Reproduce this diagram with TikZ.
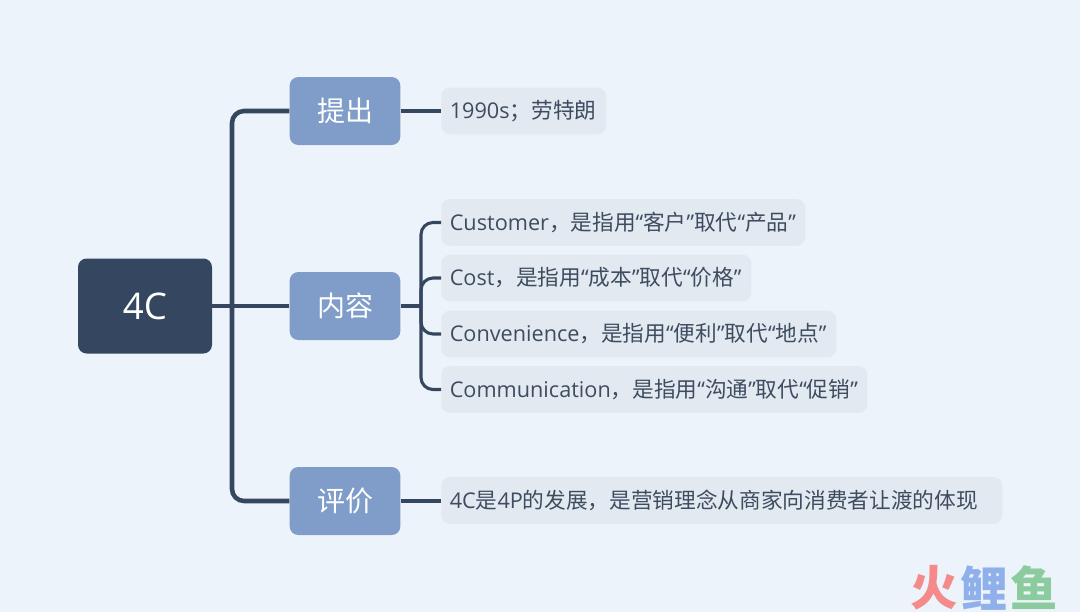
\documentclass[tikz,border=0pt]{standalone}
\usepackage{fontspec}
\setmainfont{Open Sans}
\newfontfamily\cjk{Noto Sans CJK SC}
\newfontfamily\cjkb{Noto Sans CJK SC Black}
\newcommand{\zh}[1]{{\cjk #1}}
\definecolor{bgc}{HTML}{EDF3FA}
\definecolor{rootc}{HTML}{344660}
\definecolor{midc}{HTML}{7F9DC8}
\definecolor{leafc}{HTML}{E3E9F1}
\definecolor{linec}{HTML}{35475F}
\definecolor{txtc}{HTML}{3E4C60}
\tikzset{
  x=0.75pt,y=-0.75pt,
  rootbox/.style={rectangle,rounded corners=6.5pt,fill=rootc,text=white,minimum width=100.5pt,minimum height=71.25pt,inner sep=0pt,font=\fontsize{27.5}{30}\selectfont},
  midbox/.style={rectangle,rounded corners=6.5pt,fill=midc,text=white,minimum width=83pt,minimum height=51pt,inner sep=0pt,font=\fontsize{21}{24}\selectfont},
  leafbox/.style={rectangle,rounded corners=6.5pt,fill=leafc,text=txtc,minimum height=35pt,inner xsep=6.4pt,inner ysep=0pt,anchor=west,align=left,text width=#1*0.75pt-12.8pt,font=\fontsize{16.25}{18}\selectfont},
  trunk/.style={draw=linec,line width=3.4pt,rounded corners=9pt},
  twig/.style={draw=linec,line width=2.3pt,rounded corners=9pt},
  logomark/.style={inner sep=0pt,font=\cjkb\fontsize{35.5}{37}\selectfont},
}
\begin{document}
\begin{tikzpicture}
\useasboundingbox[fill=bgc] (0,0) rectangle (1080,612);
\coordinate (tk) at (232,0);
\coordinate (tw) at (421,0);
\node[rootbox] (root) at (145,306) {4C};
\node[midbox] (a) at (345,111) {\zh{提出}};
\node[midbox] (b) at (345,306) {\zh{内容}};
\node[midbox] (c) at (345,501) {\zh{评价}};
\node[leafbox=165] (a1) at (441,111) {1990s\zh{；劳特朗}};
\node[leafbox=364] (b1) at (441,222.5) {Customer\zh{，是指用}“\zh{客户}”\zh{取代}“\zh{产品}”};
\node[leafbox=310] (b2) at (441,278) {Cost\zh{，是指用}“\zh{成本}”\zh{取代}“\zh{价格}”};
\node[leafbox=395] (b3) at (441,334) {Convenience\zh{，是指用}“\zh{便利}”\zh{取代}“\zh{地点}”};
\node[leafbox=426] (b4) at (441,389.5) {Communication\zh{，是指用}“\zh{沟通}”\zh{取代}“\zh{促销}”};
\node[leafbox=561] (c1) at (441,500.5) {4C\zh{是}4P\zh{的发展，是营销理念从商家向消费者让渡的体现}};
\draw[trunk] (root.east) -- (b.west);
\draw[trunk] (root.east -| tk) -- (tk |- a.west) -- (a.west);
\draw[trunk] (root.east -| tk) -- (tk |- c.west) -- (c.west);
\draw[twig] (a.east) -- (a1.west);
\draw[twig] (b.east) -- (b.east -| tw);
\draw[twig] (b.east -| tw) -- (tw |- b1.west) -- (b1.west);
\draw[twig] (b.east -| tw) -- (tw |- b2.west) -- (b2.west);
\draw[twig] (b.east -| tw) -- (tw |- b3.west) -- (b3.west);
\draw[twig] (b.east -| tw) -- (tw |- b4.west) -- (b4.west);
\draw[twig] (c.east) -- (c.east -| c1.west);
\node[logomark] (wm1) at (934,588) {\textcolor[HTML]{F58A8A}{火}};
\node[logomark] (wm2) at (984,588) {\textcolor[HTML]{8FB0EA}{鲤}};
\node[logomark] (wm3) at (1034,588) {\textcolor[HTML]{8CCB9E}{鱼}};
\end{tikzpicture}
\end{document}
